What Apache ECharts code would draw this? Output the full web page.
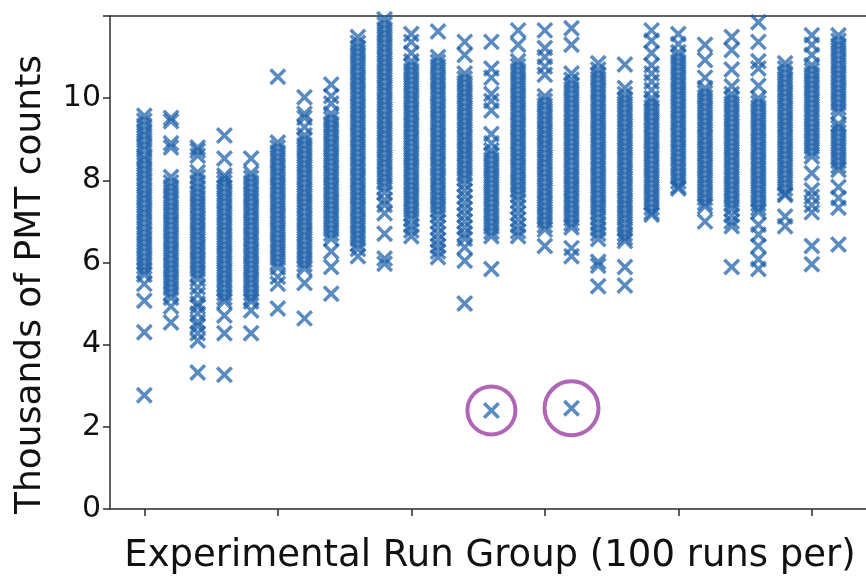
<!DOCTYPE html>
<html>
<head>
<meta charset="utf-8">
<script src="https://cdn.jsdelivr.net/npm/echarts@6/dist/echarts.min.js"></script>
<style>html,body{margin:0;padding:0;background:#fff}#c{width:866px;height:580px}</style>
</head>
<body>
<div id="c"></div>
<script>
// Thousands of PMT counts, one array per experimental run group
const g0 = [9.57, 9.45, 9.33, 9.2, 9.1, 8.97, 8.85, 8.74, 8.6, 8.5, 8.38, 8.26, 8.14, 8.02, 7.9, 7.78, 7.66, 7.55, 7.43, 7.31, 7.2, 7.08, 6.96, 6.84, 6.72, 6.6, 6.48, 6.37, 6.25, 6.13, 6.02, 5.9, 5.8, 5.7, 5.48, 5.07, 4.3, 2.77];
const g1 = [9.52, 9.44, 8.9, 8.8, 8.08, 7.95, 7.84, 7.72, 7.6, 7.48, 7.36, 7.25, 7.13, 7.01, 6.9, 6.78, 6.66, 6.55, 6.43, 6.31, 6.2, 6.08, 5.96, 5.85, 5.73, 5.61, 5.5, 5.38, 5.26, 5.14, 4.93, 4.54];
const g2 = [8.8, 8.72, 8.6, 8.2, 8.08, 7.95, 7.82, 7.7, 7.58, 7.46, 7.35, 7.23, 7.11, 7.0, 6.88, 6.76, 6.65, 6.53, 6.41, 6.3, 6.18, 6.06, 5.95, 5.83, 5.72, 5.6, 5.4, 5.22, 5.0, 4.92, 4.76, 4.55, 4.45, 4.28, 4.1, 3.32];
const g3 = [9.09, 8.53, 8.12, 8.04, 7.94, 7.82, 7.7, 7.58, 7.47, 7.35, 7.23, 7.12, 7.0, 6.88, 6.77, 6.65, 6.53, 6.42, 6.3, 6.18, 6.07, 5.95, 5.83, 5.72, 5.6, 5.48, 5.37, 5.25, 5.14, 5.05, 4.71, 4.28, 3.27];
const g4 = [8.53, 8.17, 8.06, 7.94, 7.82, 7.7, 7.59, 7.47, 7.35, 7.24, 7.12, 7.0, 6.89, 6.77, 6.65, 6.54, 6.42, 6.3, 6.19, 6.07, 5.95, 5.84, 5.72, 5.6, 5.49, 5.37, 5.25, 5.14, 5.05, 4.83, 4.28];
const g5 = [10.52, 8.92, 8.8, 8.68, 8.56, 8.45, 8.33, 8.21, 8.1, 7.98, 7.86, 7.75, 7.63, 7.51, 7.4, 7.28, 7.16, 7.05, 6.93, 6.81, 6.7, 6.58, 6.46, 6.35, 6.23, 6.11, 6.0, 5.88, 5.65, 5.48, 4.88];
const g6 = [10.02, 9.62, 9.52, 9.3, 9.1, 8.98, 8.86, 8.75, 8.63, 8.51, 8.4, 8.28, 8.16, 8.05, 7.93, 7.81, 7.7, 7.58, 7.46, 7.35, 7.23, 7.11, 7.0, 6.88, 6.76, 6.65, 6.53, 6.41, 6.3, 6.18, 6.06, 5.95, 5.85, 5.5, 4.64];
const g7 = [10.33, 10.05, 9.87, 9.62, 9.5, 9.38, 9.26, 9.15, 9.03, 8.91, 8.8, 8.68, 8.56, 8.45, 8.33, 8.21, 8.1, 7.98, 7.86, 7.75, 7.63, 7.51, 7.4, 7.28, 7.16, 7.05, 6.93, 6.81, 6.7, 6.58, 6.27, 5.89, 5.24];
const g8 = [11.49, 11.35, 11.23, 11.12, 11.0, 10.88, 10.77, 10.65, 10.53, 10.42, 10.3, 10.18, 10.07, 9.95, 9.83, 9.72, 9.6, 9.48, 9.37, 9.25, 9.13, 9.02, 8.9, 8.78, 8.67, 8.55, 8.43, 8.32, 8.2, 8.08, 7.97, 7.85, 7.73, 7.62, 7.5, 7.38, 7.27, 7.15, 7.03, 6.92, 6.8, 6.68, 6.57, 6.45, 6.33, 6.15];
const g9 = [11.92, 11.8, 11.68, 11.57, 11.45, 11.33, 11.22, 11.1, 10.98, 10.87, 10.75, 10.63, 10.52, 10.4, 10.28, 10.17, 10.05, 9.93, 9.82, 9.7, 9.58, 9.47, 9.35, 9.23, 9.12, 9.0, 8.88, 8.77, 8.65, 8.53, 8.42, 8.3, 8.18, 8.07, 7.95, 7.83, 7.7, 7.52, 7.4, 7.2, 6.7, 6.1, 5.97];
const g10 = [11.56, 11.37, 11.1, 10.9, 10.78, 10.67, 10.55, 10.43, 10.32, 10.2, 10.08, 9.97, 9.85, 9.73, 9.62, 9.5, 9.38, 9.27, 9.15, 9.03, 8.92, 8.8, 8.68, 8.57, 8.45, 8.33, 8.22, 8.1, 7.98, 7.87, 7.75, 7.63, 7.52, 7.4, 7.28, 7.17, 7.05, 6.9, 6.78, 6.64];
const g11 = [11.62, 11.0, 10.88, 10.77, 10.65, 10.53, 10.42, 10.3, 10.18, 10.07, 9.95, 9.83, 9.72, 9.6, 9.48, 9.37, 9.25, 9.13, 9.02, 8.9, 8.78, 8.67, 8.55, 8.43, 8.32, 8.2, 8.08, 7.97, 7.85, 7.73, 7.62, 7.5, 7.38, 7.27, 7.15, 7.0, 6.85, 6.7, 6.55, 6.4, 6.27, 6.13];
const g12 = [11.37, 11.05, 10.6, 10.48, 10.37, 10.25, 10.13, 10.02, 9.9, 9.78, 9.67, 9.55, 9.43, 9.32, 9.2, 9.08, 8.97, 8.85, 8.73, 8.62, 8.5, 8.38, 8.27, 8.15, 8.03, 7.9, 7.75, 7.6, 7.45, 7.3, 7.15, 7.0, 6.85, 6.7, 6.58, 6.37, 6.04, 5.0];
const g13 = [11.37, 10.72, 10.5, 10.1, 9.93, 9.7, 9.13, 8.9, 8.73, 8.62, 8.5, 8.38, 8.27, 8.15, 8.03, 7.92, 7.8, 7.68, 7.57, 7.45, 7.33, 7.22, 7.1, 6.98, 6.87, 6.75, 6.64, 5.84, 2.4];
const g14 = [11.65, 11.3, 10.9, 10.78, 10.67, 10.55, 10.43, 10.32, 10.2, 10.08, 9.97, 9.85, 9.73, 9.62, 9.5, 9.38, 9.27, 9.15, 9.03, 8.92, 8.8, 8.68, 8.57, 8.45, 8.33, 8.22, 8.1, 7.98, 7.87, 7.75, 7.63, 7.5, 7.35, 7.2, 7.05, 6.9, 6.76, 6.64];
const g15 = [11.65, 11.22, 11.0, 10.77, 10.57, 10.05, 9.93, 9.82, 9.7, 9.58, 9.47, 9.35, 9.23, 9.12, 9.0, 8.88, 8.77, 8.65, 8.53, 8.42, 8.3, 8.18, 8.07, 7.95, 7.83, 7.72, 7.6, 7.48, 7.37, 7.25, 7.13, 7.02, 6.9, 6.8, 6.4];
const g16 = [11.7, 11.3, 10.6, 10.45, 10.33, 10.22, 10.1, 9.98, 9.87, 9.75, 9.63, 9.52, 9.4, 9.28, 9.17, 9.05, 8.93, 8.82, 8.7, 8.58, 8.47, 8.35, 8.23, 8.12, 8.0, 7.88, 7.77, 7.65, 7.53, 7.42, 7.3, 7.18, 7.07, 6.95, 6.85, 6.35, 6.15, 2.45];
const g17 = [10.85, 10.7, 10.58, 10.47, 10.35, 10.23, 10.12, 10.0, 9.88, 9.77, 9.65, 9.53, 9.42, 9.3, 9.18, 9.07, 8.95, 8.83, 8.72, 8.6, 8.48, 8.37, 8.25, 8.13, 8.02, 7.9, 7.78, 7.67, 7.55, 7.43, 7.32, 7.2, 7.08, 6.95, 6.82, 6.7, 6.57, 6.02, 5.92, 5.42];
const g18 = [10.82, 10.25, 10.1, 9.98, 9.87, 9.75, 9.63, 9.52, 9.4, 9.28, 9.17, 9.05, 8.93, 8.82, 8.7, 8.58, 8.47, 8.35, 8.23, 8.12, 8.0, 7.88, 7.77, 7.65, 7.53, 7.42, 7.3, 7.18, 7.07, 6.95, 6.83, 6.7, 6.6, 6.52, 5.89, 5.44];
const g19 = [11.65, 11.4, 11.1, 10.8, 10.6, 10.4, 10.2, 10.0, 9.9, 9.78, 9.67, 9.55, 9.43, 9.32, 9.2, 9.08, 8.97, 8.85, 8.73, 8.62, 8.5, 8.38, 8.27, 8.15, 8.03, 7.92, 7.8, 7.68, 7.57, 7.45, 7.33, 7.22, 7.16];
const g20 = [11.56, 11.32, 11.12, 11.0, 10.88, 10.77, 10.65, 10.53, 10.42, 10.3, 10.18, 10.07, 9.95, 9.83, 9.72, 9.6, 9.48, 9.37, 9.25, 9.13, 9.02, 8.9, 8.78, 8.67, 8.55, 8.43, 8.32, 8.2, 8.08, 7.97, 7.85, 7.8];
const g21 = [11.3, 10.93, 10.5, 10.25, 10.13, 10.02, 9.9, 9.78, 9.67, 9.55, 9.43, 9.32, 9.2, 9.08, 8.97, 8.85, 8.73, 8.62, 8.5, 8.38, 8.27, 8.15, 8.03, 7.92, 7.8, 7.68, 7.57, 7.45, 7.36, 7.0];
const g22 = [11.49, 11.17, 10.7, 10.29, 10.1, 9.98, 9.87, 9.75, 9.63, 9.52, 9.4, 9.28, 9.17, 9.05, 8.93, 8.82, 8.7, 8.58, 8.47, 8.35, 8.23, 8.12, 8.0, 7.88, 7.77, 7.65, 7.53, 7.42, 7.3, 7.15, 7.0, 6.88, 5.89];
const g23 = [11.85, 11.37, 10.9, 10.72, 10.3, 10.0, 9.88, 9.77, 9.65, 9.53, 9.42, 9.3, 9.18, 9.07, 8.95, 8.83, 8.72, 8.6, 8.48, 8.37, 8.25, 8.13, 8.02, 7.9, 7.78, 7.67, 7.55, 7.43, 7.32, 7.23, 6.92, 6.68, 6.4, 6.08, 5.84];
const g24 = [10.85, 10.72, 10.6, 10.48, 10.37, 10.25, 10.13, 10.02, 9.9, 9.78, 9.67, 9.55, 9.43, 9.32, 9.2, 9.08, 8.97, 8.85, 8.73, 8.62, 8.5, 8.38, 8.27, 8.15, 8.03, 7.92, 7.8, 7.68, 7.64, 7.12, 6.88];
const g25 = [11.53, 11.3, 11.05, 10.8, 10.68, 10.57, 10.45, 10.33, 10.22, 10.1, 9.98, 9.87, 9.75, 9.63, 9.52, 9.4, 9.28, 9.17, 9.05, 8.93, 8.82, 8.7, 8.58, 8.17, 7.76, 7.6, 7.4, 7.22, 6.4, 5.96];
const g26 = [11.53, 11.4, 11.28, 11.17, 11.05, 10.93, 10.82, 10.7, 10.58, 10.47, 10.35, 10.23, 10.12, 10.0, 9.88, 9.77, 9.65, 9.37, 9.28, 9.17, 9.05, 8.93, 8.82, 8.7, 8.58, 8.47, 8.35, 8.25, 7.84, 7.57, 7.33, 6.44];

const runGroups = [g0, g1, g2, g3, g4, g5, g6, g7, g8, g9, g10, g11, g12, g13, g14, g15, g16, g17, g18, g19, g20, g21, g22, g23, g24, g25, g26];

// circled outliers: [run group index, thousands of PMT counts]
const circledPoints = [[13, 2.4], [16, 2.45]];
const circleSizes = [48, 54];

const xTickValues = [0, 5, 10, 15, 20, 25];

const xTitle = 'Experimental Run Group (100 runs per)';
const yTitle = 'Thousands of PMT counts';

const scatterData = [];
runGroups.forEach((vals, i) => vals.forEach(v => scatterData.push([i, v])));

const FONT = 'DejaVu Sans';
const AXIS_COLOR = '#2b2b2b';

const chart = echarts.init(document.getElementById('c'), null, {renderer: 'canvas'});
chart.setOption({
  animation: false,
  backgroundColor: '#ffffff',
  grid: {left: 110, right: 0, top: 16, bottom: 68, containLabel: false},
  xAxis: [{
    type: 'value', min: -1.285, max: 27.03, position: 'bottom',
    name: xTitle, nameLocation: 'middle', nameGap: 29,
    nameTextStyle: {fontFamily: FONT, fontSize: 37, color: '#111', padding: [0, 0, 0, 4]},
    axisLine: {show: true, onZero: false, lineStyle: {color: AXIS_COLOR, width: 1.5}},
    axisTick: {show: true, length: 7, customValues: xTickValues, lineStyle: {color: AXIS_COLOR, width: 1.5}},
    axisLabel: {show: false},
    splitLine: {show: false}
  }, {
    type: 'value', min: -1.285, max: 27.03, position: 'top',
    axisLine: {show: true, onZero: false, lineStyle: {color: AXIS_COLOR, width: 1.5}},
    axisTick: {show: false}, axisLabel: {show: false}, splitLine: {show: false}
  }],
  yAxis: {
    type: 'value', min: 0, max: 12, interval: 2,
    name: yTitle, nameLocation: 'middle', nameGap: 61,
    nameTextStyle: {fontFamily: FONT, fontSize: 36, color: '#111', padding: [0, 44, 0, 0]},
    axisLine: {show: true, onZero: false, lineStyle: {color: AXIS_COLOR, width: 1.5}},
    axisTick: {show: true, length: 7, lineStyle: {color: AXIS_COLOR, width: 1.5}},
    axisLabel: {show: true, fontFamily: FONT, fontSize: 30, color: '#111', margin: 9,
      formatter: v => (v === 12 ? '' : String(v))},
    splitLine: {show: false}
  },
  series: [{
    type: 'scatter',
    xAxisIndex: 0,
    data: scatterData,
    symbol: 'path://M0 0L10 10M10 0L0 10',
    symbolSize: 14.5,
    itemStyle: {color: 'rgba(0,0,0,0)', borderColor: 'rgba(26,94,168,0.9)', borderWidth: 3.5},
    emphasis: {disabled: true},
    z: 2
  }, {
    type: 'scatter',
    xAxisIndex: 0,
    data: circledPoints.map((p, i) => ({value: p, symbolSize: circleSizes[i]})),
    symbol: 'circle',
    itemStyle: {color: 'rgba(0,0,0,0)', borderColor: '#9c3fa5', borderWidth: 4},
    emphasis: {disabled: true},
    z: 3
  }]
});
</script>
</body>
</html>
